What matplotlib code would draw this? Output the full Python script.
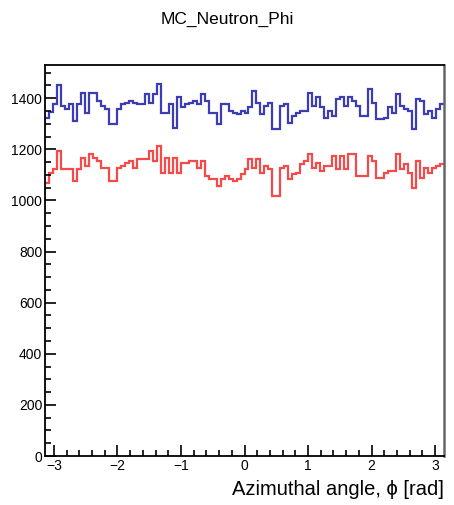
import numpy as np
import matplotlib
matplotlib.use("Agg")
import matplotlib.pyplot as plt
from matplotlib.ticker import MultipleLocator

plt.rcParams['font.family'] = ['Liberation Sans', 'DejaVu Sans']

# 100 bins from -pi to pi
blue_counts = [
    1324, 1345, 1376, 1451, 1370, 1357, 1376, 1311, 1376, 1422,
    1344, 1422, 1422, 1390, 1370, 1357, 1298, 1298, 1357, 1376,
    1380, 1390, 1383, 1376, 1376, 1416, 1383, 1416, 1455, 1344,
    1344, 1377, 1285, 1403, 1364, 1377, 1383, 1390, 1377, 1416,
    1390, 1344, 1344, 1298, 1377, 1377, 1350, 1344, 1337, 1350,
    1344, 1364, 1429, 1383, 1337, 1370, 1383, 1278, 1278, 1370,
    1377, 1305, 1331, 1344, 1350, 1350, 1422, 1370, 1403, 1364,
    1324, 1350, 1331, 1396, 1403, 1370, 1403, 1390, 1370, 1331,
    1331, 1435, 1383, 1318, 1318, 1324, 1364, 1344, 1416, 1370,
    1357, 1350, 1278, 1396, 1390, 1337, 1350, 1324, 1357, 1377,
]
red_counts = [
    1069, 1109, 1122, 1194, 1124, 1124, 1124, 1075, 1122, 1167,
    1135, 1180, 1167, 1154, 1128, 1128, 1075, 1075, 1128, 1135,
    1148, 1154, 1128, 1161, 1161, 1161, 1194, 1154, 1213, 1109,
    1167, 1109, 1167, 1109, 1148, 1148, 1154, 1154, 1128, 1154,
    1096, 1083, 1083, 1057, 1083, 1096, 1083, 1075, 1083, 1102,
    1122, 1161, 1128, 1161, 1109, 1135, 1122, 1017, 1017, 1128,
    1135, 1083, 1102, 1109, 1141, 1154, 1180, 1128, 1148, 1115,
    1135, 1135, 1174, 1122, 1174, 1122, 1180, 1180, 1096, 1096,
    1096, 1174, 1154, 1089, 1089, 1109, 1115, 1115, 1180, 1122,
    1141, 1109, 1050, 1154, 1089, 1128, 1109, 1128, 1135, 1141,
]
edges = np.linspace(-np.pi, np.pi, len(blue_counts) + 1)

fig = plt.figure(figsize=(4.54, 5.05), dpi=100)
ax = fig.add_axes([45 / 454, 49 / 505, 399 / 454, 391 / 505])

ax.stairs(blue_counts, edges, baseline=None, color='#3c3cb4', linewidth=1.6)
ax.stairs(red_counts, edges, baseline=None, color='#f44a4a', linewidth=1.6)

ax.set_xlim(-np.pi, np.pi)
ax.set_ylim(0, 1530)

ax.xaxis.set_major_locator(MultipleLocator(1))
ax.xaxis.set_minor_locator(MultipleLocator(0.2))
ax.yaxis.set_major_locator(MultipleLocator(200))
ax.yaxis.set_minor_locator(MultipleLocator(50))
ax.tick_params(which='both', direction='in', top=False, right=False,
               labelsize=10, width=1.2, pad=2)
ax.tick_params(which='major', length=8)
ax.tick_params(which='minor', length=4)

for side in ['left', 'bottom', 'top']:
    ax.spines[side].set_linewidth(1.3)
ax.spines['right'].set_color('#666666')
ax.spines['right'].set_linewidth(1.8)

ax.set_xlabel('Azimuthal angle, \u03d5 [rad]', fontsize=14.5, loc='right',
              labelpad=5)
fig.text(227 / 454, 1 - 19 / 505, 'MC_Neutron_Phi', ha='center', va='center',
         fontsize=12.5)

fig.savefig('out.png', dpi=100)
